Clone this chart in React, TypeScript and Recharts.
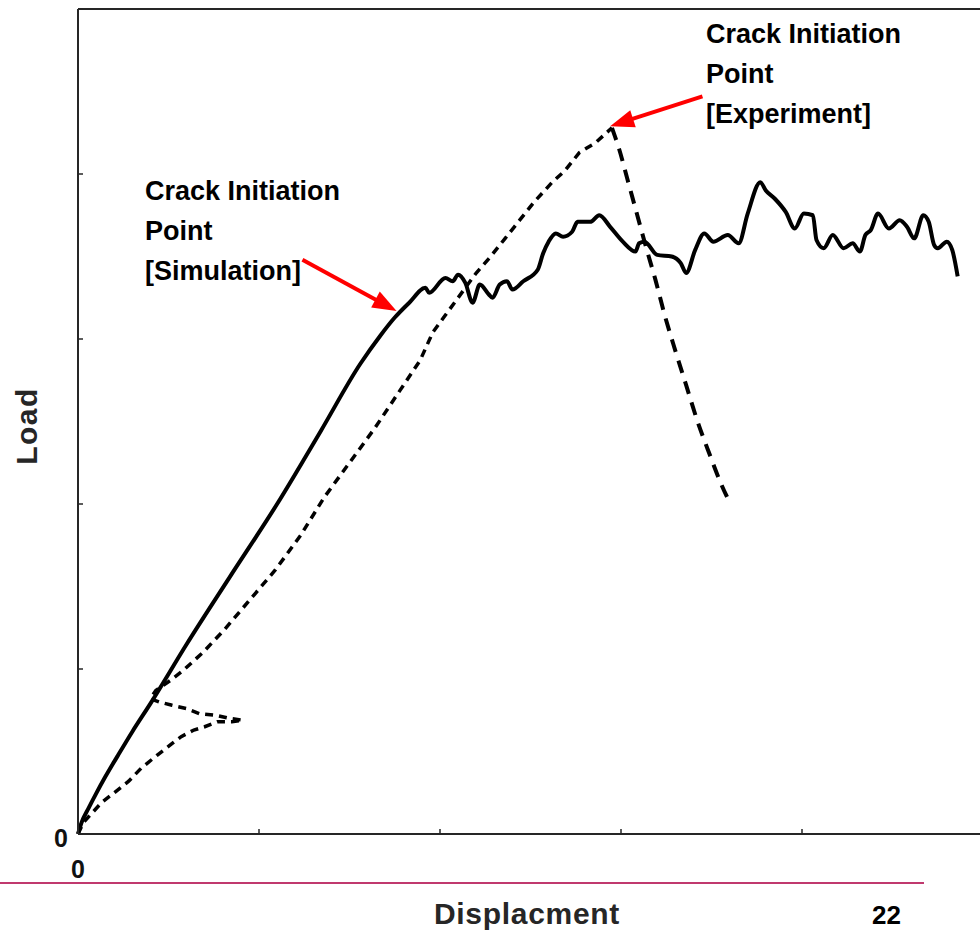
import React from 'react';
import { LineChart, Line, XAxis, YAxis, ReferenceLine } from 'recharts';

const FONT = '"Liberation Sans", Arial, Helvetica, sans-serif';

// Axis ticks (only the origin is labelled)
const xTicks = [0, 1, 2, 3, 4, 5];
const yTicks = [0, 1, 2, 3, 4, 5];
const tickLabels: Record<number, string> = { 0: '0' };

// Simulation (solid)
const simulation = [
  { x: 0, y: 0 }, { x: 0.02, y: 0.07 }, { x: 0.06, y: 0.16 }, { x: 0.1, y: 0.245 },
  { x: 0.15, y: 0.345 }, { x: 0.22, y: 0.475 }, { x: 0.3, y: 0.62 }, { x: 0.4, y: 0.79 },
  { x: 0.6, y: 1.15 }, { x: 0.84, y: 1.56 }, { x: 1.1, y: 2.0 }, { x: 1.34, y: 2.44 },
  { x: 1.56, y: 2.85 }, { x: 1.67, y: 3.02 }, { x: 1.75, y: 3.13 }, { x: 1.83, y: 3.22 },
  { x: 1.92, y: 3.31 }, { x: 1.94, y: 3.28 }, { x: 2.03, y: 3.37 }, { x: 2.07, y: 3.35 },
  { x: 2.1, y: 3.39 }, { x: 2.14, y: 3.34 }, { x: 2.18, y: 3.22 }, { x: 2.22, y: 3.33 },
  { x: 2.27, y: 3.27 }, { x: 2.29, y: 3.25 }, { x: 2.33, y: 3.33 }, { x: 2.37, y: 3.35 },
  { x: 2.4, y: 3.3 }, { x: 2.46, y: 3.35 }, { x: 2.54, y: 3.42 }, { x: 2.57, y: 3.52 },
  { x: 2.6, y: 3.59 }, { x: 2.64, y: 3.64 }, { x: 2.68, y: 3.62 }, { x: 2.73, y: 3.65 },
  { x: 2.76, y: 3.71 }, { x: 2.83, y: 3.71 }, { x: 2.88, y: 3.75 }, { x: 2.94, y: 3.68 },
  { x: 3.01, y: 3.59 }, { x: 3.08, y: 3.53 }, { x: 3.1, y: 3.58 }, { x: 3.13, y: 3.59 },
  { x: 3.2, y: 3.51 }, { x: 3.28, y: 3.5 }, { x: 3.33, y: 3.46 }, { x: 3.36, y: 3.4 },
  { x: 3.41, y: 3.54 }, { x: 3.46, y: 3.64 }, { x: 3.51, y: 3.59 }, { x: 3.59, y: 3.63 },
  { x: 3.65, y: 3.58 }, { x: 3.7, y: 3.76 }, { x: 3.77, y: 3.95 }, { x: 3.8, y: 3.9 },
  { x: 3.85, y: 3.85 }, { x: 3.91, y: 3.77 }, { x: 3.96, y: 3.67 }, { x: 4.01, y: 3.76 },
  { x: 4.06, y: 3.75 }, { x: 4.08, y: 3.6 }, { x: 4.12, y: 3.55 }, { x: 4.17, y: 3.63 },
  { x: 4.23, y: 3.55 }, { x: 4.28, y: 3.58 }, { x: 4.32, y: 3.53 }, { x: 4.35, y: 3.63 },
  { x: 4.38, y: 3.66 }, { x: 4.42, y: 3.76 }, { x: 4.48, y: 3.67 }, { x: 4.54, y: 3.72 },
  { x: 4.58, y: 3.68 }, { x: 4.62, y: 3.61 }, { x: 4.67, y: 3.75 }, { x: 4.7, y: 3.71 },
  { x: 4.73, y: 3.57 }, { x: 4.75, y: 3.55 }, { x: 4.8, y: 3.59 }, { x: 4.83, y: 3.54 },
  { x: 4.86, y: 3.38 },
];

// Experiment (dashed) — loading part, including the small loop near the start
const experimentRise = [
  { x: 0, y: 0 }, { x: 0.03, y: 0.07 }, { x: 0.08, y: 0.13 }, { x: 0.13, y: 0.19 },
  { x: 0.2, y: 0.25 }, { x: 0.28, y: 0.32 }, { x: 0.35, y: 0.4 }, { x: 0.44, y: 0.48 },
  { x: 0.51, y: 0.54 }, { x: 0.57, y: 0.59 }, { x: 0.64, y: 0.63 }, { x: 0.7, y: 0.65 },
  { x: 0.77, y: 0.68 }, { x: 0.85, y: 0.68 }, { x: 0.91, y: 0.69 }, { x: 0.84, y: 0.7 },
  { x: 0.76, y: 0.72 }, { x: 0.67, y: 0.73 }, { x: 0.6, y: 0.76 }, { x: 0.52, y: 0.78 },
  { x: 0.45, y: 0.8 }, { x: 0.4, y: 0.82 }, { x: 0.43, y: 0.87 }, { x: 0.51, y: 0.93 },
  { x: 0.58, y: 0.99 }, { x: 0.69, y: 1.1 }, { x: 0.81, y: 1.24 }, { x: 0.95, y: 1.42 },
  { x: 1.09, y: 1.6 }, { x: 1.23, y: 1.81 }, { x: 1.36, y: 2.04 }, { x: 1.5, y: 2.25 },
  { x: 1.64, y: 2.46 }, { x: 1.78, y: 2.69 }, { x: 1.89, y: 2.87 }, { x: 1.96, y: 3.04 },
  { x: 2.02, y: 3.13 }, { x: 2.1, y: 3.25 }, { x: 2.2, y: 3.4 }, { x: 2.28, y: 3.5 },
  { x: 2.36, y: 3.61 }, { x: 2.44, y: 3.72 }, { x: 2.52, y: 3.83 }, { x: 2.62, y: 3.95 },
  { x: 2.69, y: 4.02 }, { x: 2.77, y: 4.13 }, { x: 2.86, y: 4.19 }, { x: 2.95, y: 4.28 },
];

// Experiment (dashed) — post-peak drop
const experimentDrop = [
  { x: 2.95, y: 4.28 }, { x: 2.99, y: 4.15 }, { x: 3.04, y: 3.95 }, { x: 3.09, y: 3.75 },
  { x: 3.14, y: 3.55 }, { x: 3.19, y: 3.36 }, { x: 3.24, y: 3.15 }, { x: 3.3, y: 2.93 },
  { x: 3.36, y: 2.72 }, { x: 3.42, y: 2.51 }, { x: 3.49, y: 2.3 }, { x: 3.55, y: 2.13 },
  { x: 3.6, y: 2.01 },
];

// Annotation arrows (tail -> tip), in data units
const simulationArrow = [{ x: 1.24, y: 3.48 }, { x: 1.76, y: 3.17 }];
const experimentArrow = [{ x: 3.45, y: 4.47 }, { x: 2.94, y: 4.29 }];

const AXIS = '#262626';

function Arrow(props: any) {
  const { x1, y1, x2, y2 } = props;
  const dx = x2 - x1;
  const dy = y2 - y1;
  const len = Math.hypot(dx, dy) || 1;
  const ux = dx / len;
  const uy = dy / len;
  const head = 24;
  const half = 9;
  const bx = x2 - ux * head;
  const by = y2 - uy * head;
  const px = -uy;
  const py = ux;
  return (
    <g>
      <line x1={x1} y1={y1} x2={bx + ux * 3} y2={by + uy * 3} stroke="#ff0000" strokeWidth={4} />
      <polygon
        points={`${x2},${y2} ${bx + px * half},${by + py * half} ${bx - px * half},${by - py * half}`}
        fill="#ff0000"
      />
    </g>
  );
}

const LeftTick = (p: any) => {
  const label = tickLabels[p.payload.value];
  if (!label) return <g />;
  return (
    <text x={p.x} y={p.y} dy={13} textAnchor="end" fontFamily={FONT} fontWeight={700} fontSize={25} fill="#111">
      {label}
    </text>
  );
};

const BottomTick = (p: any) => {
  const label = tickLabels[p.payload.value];
  if (!label) return <g />;
  return (
    <text x={p.x} y={p.y} dy={18} textAnchor="middle" fontFamily={FONT} fontWeight={700} fontSize={25} fill="#111">
      {label}
    </text>
  );
};

const annotationStyle: React.CSSProperties = {
  position: 'absolute',
  fontFamily: FONT,
  fontWeight: 700,
  fontSize: 27,
  lineHeight: '40px',
  color: '#000',
  whiteSpace: 'nowrap',
};

export default function App() {
  return (
    <div
      style={{
        position: 'absolute',
        left: 0,
        top: 0,
        width: 980,
        height: 931,
        overflow: 'hidden',
        background: '#fff',
        fontFamily: FONT,
      }}
    >
      <LineChart width={1000} height={931} margin={{ top: 1, right: 7, bottom: 37, left: 18 }}>
        <XAxis
          xAxisId="b"
          type="number"
          dataKey="x"
          domain={[0, 5]}
          ticks={xTicks}
          interval={0}
          height={60}
          tickSize={-5}
          tickMargin={31}
          axisLine={{ stroke: AXIS, strokeWidth: 2 }}
          tickLine={{ stroke: AXIS, strokeWidth: 1.5 }}
          tick={BottomTick}
        />
        <XAxis
          xAxisId="t"
          orientation="top"
          type="number"
          dataKey="x"
          domain={[0, 5]}
          ticks={xTicks}
          interval={0}
          height={8}
          tickSize={-5}
          axisLine={{ stroke: AXIS, strokeWidth: 2 }}
          tickLine={{ stroke: AXIS, strokeWidth: 1.5 }}
          tick={false}
        />
        <YAxis
          yAxisId="l"
          type="number"
          domain={[0, 5]}
          ticks={yTicks}
          interval={0}
          width={60}
          tickSize={-5}
          tickMargin={15}
          axisLine={{ stroke: AXIS, strokeWidth: 2 }}
          tickLine={{ stroke: AXIS, strokeWidth: 1.5 }}
          tick={LeftTick}
        />
        <YAxis
          yAxisId="r"
          orientation="right"
          type="number"
          domain={[0, 5]}
          ticks={yTicks}
          interval={0}
          width={10}
          tickSize={-5}
          axisLine={{ stroke: AXIS, strokeWidth: 2 }}
          tickLine={{ stroke: AXIS, strokeWidth: 1.5 }}
          tick={false}
        />
        <Line
          xAxisId="b"
          yAxisId="l"
          data={experimentRise}
          dataKey="y"
          type="linear"
          stroke="#000"
          strokeWidth={3.5}
          strokeDasharray="8 6"
          dot={false}
          activeDot={false}
          isAnimationActive={false}
        />
        <Line
          xAxisId="b"
          yAxisId="l"
          data={experimentDrop}
          dataKey="y"
          type="monotone"
          stroke="#000"
          strokeWidth={4}
          strokeDasharray="13 9"
          dot={false}
          activeDot={false}
          isAnimationActive={false}
        />
        <Line
          xAxisId="b"
          yAxisId="l"
          data={simulation}
          dataKey="y"
          type="monotone"
          stroke="#000"
          strokeWidth={4}
          strokeLinejoin="round"
          dot={false}
          activeDot={false}
          isAnimationActive={false}
        />
        <ReferenceLine
          xAxisId="b"
          yAxisId="l"
          segment={simulationArrow}
          ifOverflow="visible"
          shape={Arrow}
        />
        <ReferenceLine
          xAxisId="b"
          yAxisId="l"
          segment={experimentArrow}
          ifOverflow="visible"
          shape={Arrow}
        />
      </LineChart>

      <div style={{ ...annotationStyle, left: 145, top: 171 }}>
        Crack Initiation
        <br />
        Point
        <br />
        [Simulation]
      </div>
      <div style={{ ...annotationStyle, left: 706, top: 14 }}>
        Crack Initiation
        <br />
        Point
        <br />
        [Experiment]
      </div>

      <div
        style={{
          position: 'absolute',
          left: 27,
          top: 426,
          transform: 'translate(-50%, -50%) rotate(-90deg)',
          fontFamily: FONT,
          fontWeight: 700,
          fontSize: 30,
          letterSpacing: 1.5,
          color: AXIS,
          whiteSpace: 'nowrap',
          lineHeight: '30px',
        }}
      >
        Load
      </div>
      <div
        style={{
          position: 'absolute',
          left: 527,
          top: 899,
          transform: 'translateX(-50%)',
          fontFamily: FONT,
          fontWeight: 700,
          fontSize: 30,
          letterSpacing: 0.7,
          color: AXIS,
          whiteSpace: 'nowrap',
          lineHeight: '30px',
        }}
      >
        Displacment
      </div>

      <div style={{ position: 'absolute', left: 0, top: 882, width: 924, height: 2, background: '#c0396e' }} />
      <div
        style={{
          position: 'absolute',
          left: 872,
          top: 902,
          fontFamily: FONT,
          fontWeight: 700,
          fontSize: 26,
          lineHeight: '26px',
          color: '#000',
        }}
      >
        22
      </div>
    </div>
  );
}
